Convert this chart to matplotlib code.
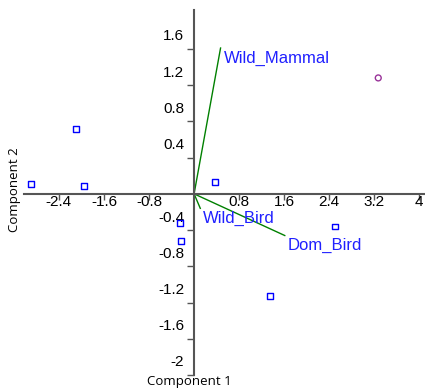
import numpy as np
from matplotlib import pyplot as plt
from matplotlib import transforms

# scores (component 1, component 2)
group_a_x = [-2.90, -2.10, -1.96, 0.37, -0.25, -0.23, 2.50, 1.34]
group_a_y = [0.11, 0.72, 0.09, 0.13, -0.32, -0.52, -0.36, -1.13]
group_b_x = [3.27]
group_b_y = [1.28]

# loadings
var_names = ['Wild_Mammal', 'Wild_Bird', 'Dom_Bird']
load_x = [0.47, 0.11, 1.61]
load_y = [1.61, -0.16, -0.46]

xticks = [-2.4, -1.6, -0.8, 0.8, 1.6, 2.4, 3.2, 4]
yticks = [-2, -1.6, -1.2, -0.8, -0.4, 0.4, 0.8, 1.2, 1.6]

W, H = 425, 391
fig = plt.figure(figsize=(W / 100, H / 100), dpi=100)
ax = fig.add_axes([24 / W, (H - 375) / H, (425 - 24) / W, (375 - 10) / H])
ax.set_xlim(-3.02, 4.10)
ax.set_ylim(-2.0, 2.03)

axis_col = '#555555'
for s in ['top', 'right']:
    ax.spines[s].set_visible(False)
ax.spines['left'].set_position(('data', 0))
ax.spines['bottom'].set_position(('data', 0))
ax.spines['left'].set_color(axis_col)
ax.spines['bottom'].set_color(axis_col)
ax.spines['left'].set_linewidth(1.5)
ax.spines['bottom'].set_linewidth(1.5)

ax.set_xticks(xticks)
ax.set_xticklabels(['%g' % t for t in xticks])
ax.set_yticks(yticks)
ax.set_yticklabels(['%g' % t for t in yticks])
ax.tick_params(axis='x', direction='out', length=4, width=1, color=axis_col,
               pad=-3, labelsize=11)
ax.tick_params(axis='y', direction='out', length=5, width=1, color=axis_col,
               pad=2, labelsize=11)
for lbl in ax.get_xticklabels() + ax.get_yticklabels():
    lbl.set_family('Liberation Sans')
# y labels sit above their ticks in the original
shift = transforms.ScaledTranslation(0, 14 / 100, fig.dpi_scale_trans)
for lbl in ax.get_yticklabels():
    lbl.set_transform(lbl.get_transform() + shift)

for i in range(len(var_names)):
    ax.plot([0, load_x[i]], [0, load_y[i]], color='#008000', lw=1, zorder=2)
    ax.annotate(var_names[i], (load_x[i], load_y[i]), xytext=(3, -10),
                textcoords='offset pixels', color='#2020ff', fontsize=12,
                family='Liberation Sans', va='center', ha='left')

ax.scatter(group_a_x, group_a_y, marker='s', s=18, facecolors='none',
           edgecolors='#0000ff', linewidths=1, zorder=3)
ax.scatter(group_b_x, group_b_y, marker='o', s=18, facecolors='none',
           edgecolors='#993399', linewidths=1, zorder=3)

fig.text(189 / W, 1 - 381 / H, 'Component 1', ha='center', va='center',
         fontsize=9.5, family='Open Sans')
fig.text(15 / W, 1 - 190 / H, 'Component 2', ha='center', va='center',
         rotation=90, fontsize=9.5, family='Open Sans')

fig.savefig('out.png', dpi=100)
